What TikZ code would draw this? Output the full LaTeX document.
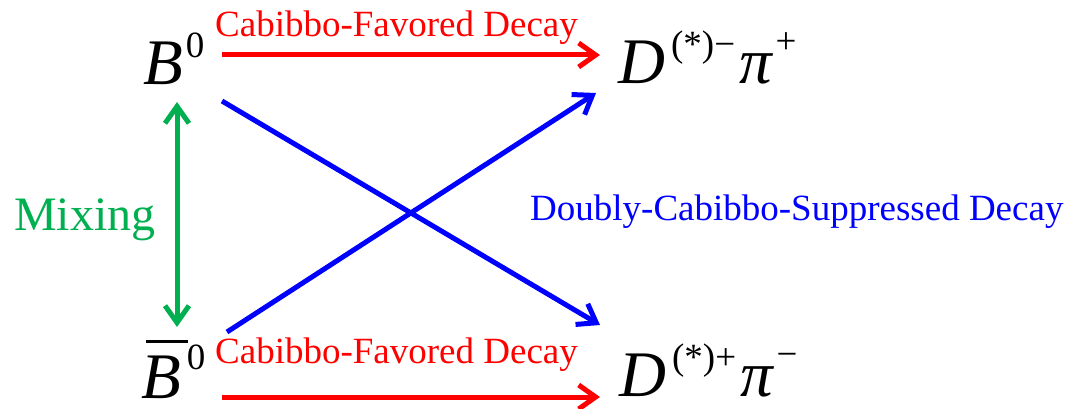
\documentclass[tikz,border=0pt]{standalone}
\usepackage{fontspec}
\setmainfont{LiberationSerif}[Extension=.ttf,UprightFont=*-Regular,ItalicFont=*-Italic,BoldFont=*-Bold]
\usetikzlibrary{arrows.meta}
\definecolor{cfred}{RGB}{255,0,0}
\definecolor{dcsblue}{RGB}{0,0,255}
\definecolor{mixgreen}{RGB}{0,176,80}
\newcommand{\bigsz}{\fontsize{65}{65}\selectfont}
\newcommand{\supsz}{\fontsize{37}{37}\selectfont}
\begin{document}
\begin{tikzpicture}[x=1pt,y=-1pt,
  lbl/.style={inner sep=0pt,anchor=base west},
  decaytxt/.style={lbl,font=\fontsize{37}{37}\selectfont},
  arr/.style={line width=5pt,-{Straight Barb[length=17pt,width=24pt]}},
  dblarr/.style={line width=5pt,{Straight Barb[length=17pt,width=24pt]}-{Straight Barb[length=17pt,width=24pt]}}]
\useasboundingbox (0,0) rectangle (1070,409);
% particle labels
\node[lbl] (B0) at (143,85) {{\bigsz\itshape B}\raisebox{28pt}{\supsz\hspace{3pt}0}};
\node[lbl] (B0bar) at (141,398) {\rlap{\hspace{5pt}\raisebox{55pt}{\rule{42pt}{2.6pt}}}{\bigsz\itshape B}\raisebox{29pt}{\supsz\hspace{6pt}0}};
\node[lbl] (Dm) at (618,84) {{\bigsz\itshape D}\raisebox{27pt}{\supsz\hspace{6pt}(*)−}{\bigsz\hspace{4pt}\itshape π}\raisebox{30pt}{\supsz\hspace{4pt}+}};
\node[lbl] (Dp) at (619,396) {{\bigsz\itshape D}\raisebox{27pt}{\supsz\hspace{6pt}(*)+}{\bigsz\hspace{4pt}\itshape π}\raisebox{30pt}{\supsz\hspace{4pt}−}};
% text labels
\node[decaytxt,text=cfred] (cftop) at (215,37) {Cabibbo-Favored Decay};
\node[decaytxt,text=cfred] (cfbot) at (215,363) {Cabibbo-Favored Decay};
\node[lbl,text=mixgreen,font=\fontsize{48}{48}\selectfont] (mix) at (14,230) {Mixing};
\node[decaytxt,text=dcsblue] (dcs) at (530,220) {Doubly-Cabibbo-Suppressed Decay};
% connector end points
\coordinate (rts) at (222,55);
\coordinate (rte) at (600,55);
\coordinate (rbs) at (222,397);
\coordinate (rbe) at (600,397);
\coordinate (gs) at (177,102);
\coordinate (ge) at (177,327);
\coordinate (b1s) at (222,101);
\coordinate (b1e) at (600,325);
\coordinate (b2s) at (227,332);
\coordinate (b2e) at (596,93);
% connectors
\draw[arr,cfred] (rts) -- (rte);
\draw[arr,cfred] (rbs) -- (rbe);
\draw[dblarr,mixgreen] (gs) -- (ge);
\draw[arr,dcsblue] (b1s) -- (b1e);
\draw[arr,dcsblue] (b2s) -- (b2e);
\end{tikzpicture}
\end{document}
